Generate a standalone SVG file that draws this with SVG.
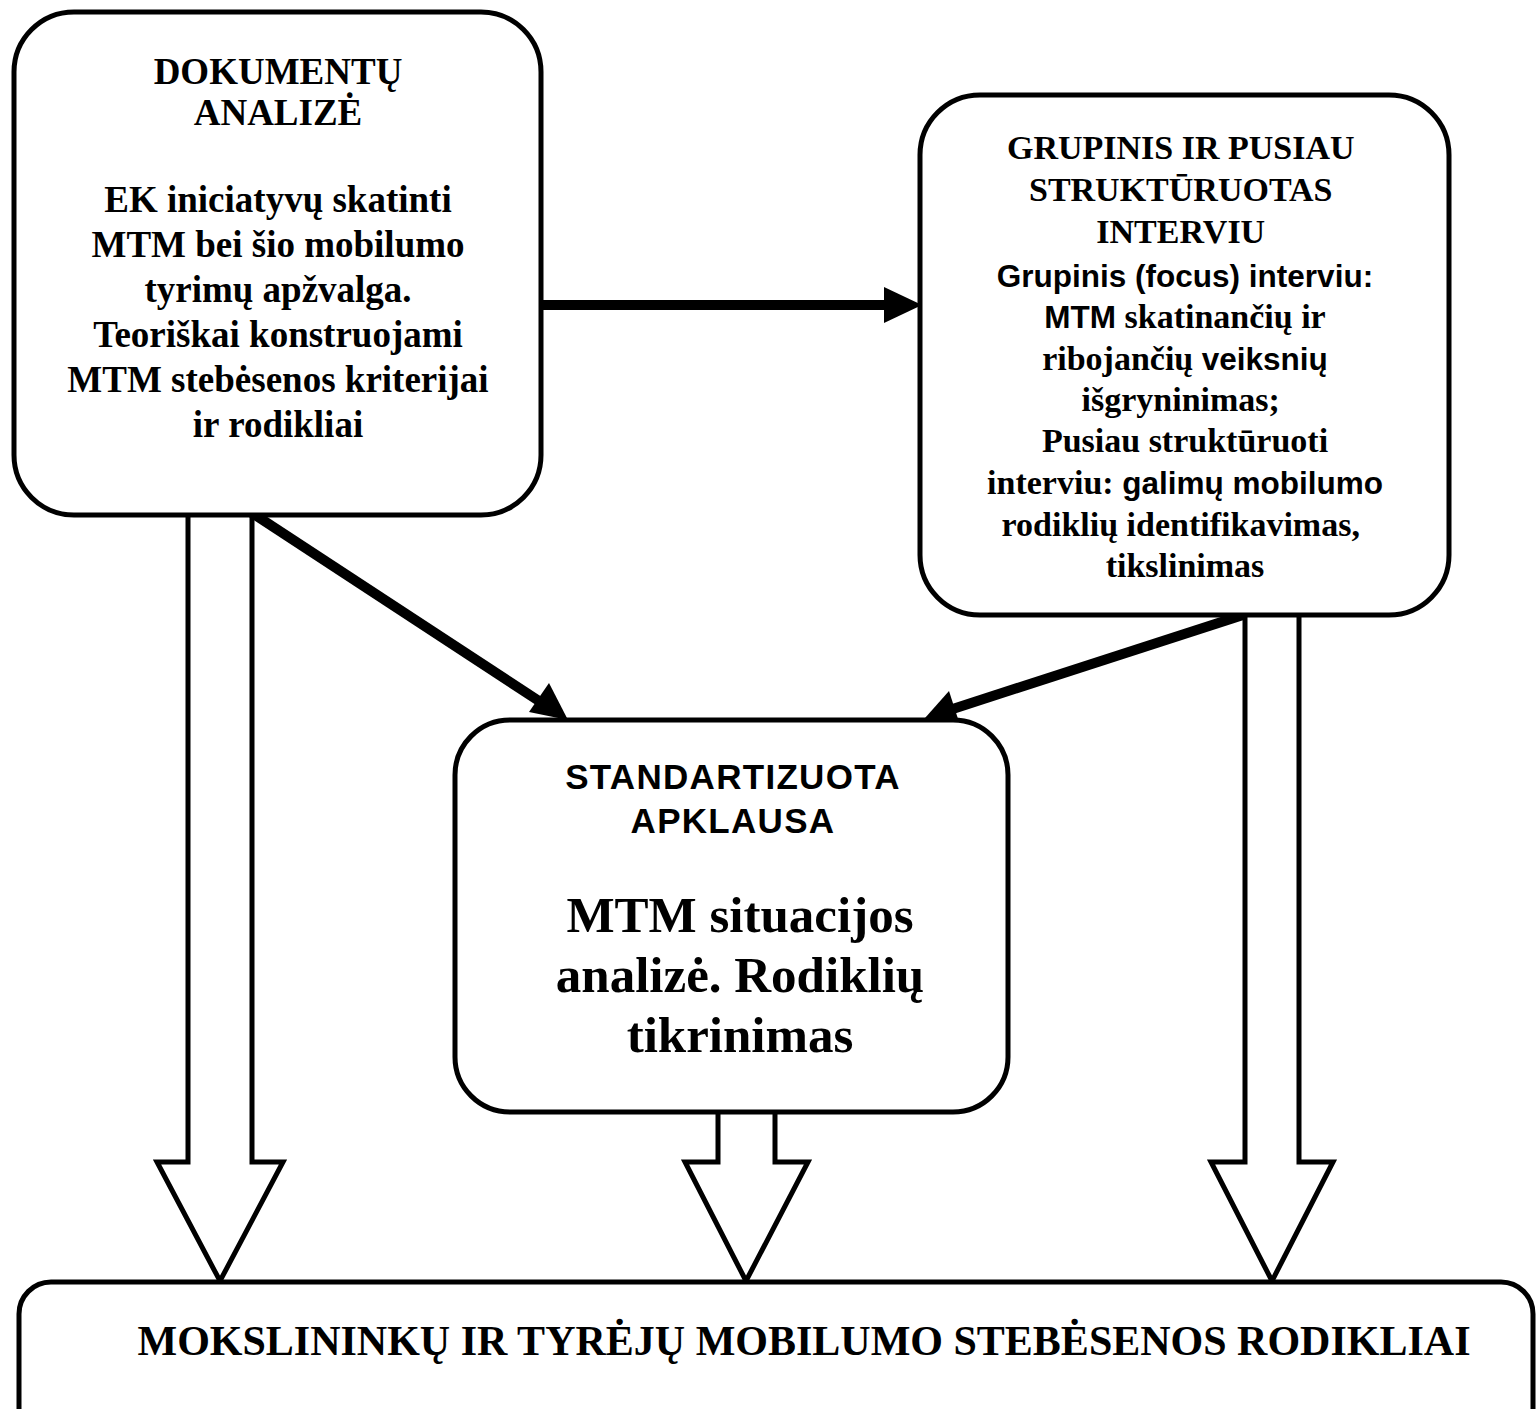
<svg xmlns="http://www.w3.org/2000/svg" width="1537" height="1409" viewBox="0 0 1537 1409">
<style>
.box{fill:#fff;stroke:#000;stroke-width:5}
.blk{fill:#fff;stroke:#000;stroke-width:5;stroke-linejoin:miter}
.con{stroke:#000;stroke-width:10;fill:none}
.head{fill:#000}
.t{font-family:"Liberation Serif","Times New Roman",serif;font-weight:bold;text-anchor:middle;fill:#000}
.s{font-family:"Liberation Sans",Arial,sans-serif;font-weight:bold}
</style>
<rect width="1537" height="1409" fill="#fff"/>
<g id="connectors">
  <path class="blk" d="M188,515 L188,1162 L157,1162 L220,1281 L283,1162 L252,1162 L252,515"/>
  <path class="blk" d="M718,1112 L718,1162 L685,1162 L746,1281 L808,1162 L775,1162 L775,1112"/>
  <path class="blk" d="M1245,615 L1245,1162 L1211,1162 L1272,1281 L1333,1162 L1299,1162 L1299,615"/>
  <line class="con" x1="543" y1="305" x2="888" y2="305" stroke-width="9"/>
  <polygon class="head" points="884,287 922,305 884,323"/>
  <line class="con" x1="252" y1="513" x2="543" y2="703.6"/>
  <polygon class="head" points="568,720 529,712 549,683"/>
  <line class="con" x1="1243" y1="615" x2="953.5" y2="708.7"/>
  <polygon class="head" points="925,718 949,691 960,725"/>
</g>
<g id="node-dokumentu">
  <rect class="box" x="14" y="12" width="527" height="503" rx="60"/>
  <text class="t" font-size="37" x="278"><tspan x="278" y="84">DOKUMENTŲ</tspan><tspan x="278" y="125">ANALIZĖ</tspan><tspan x="278" y="212">EK iniciatyvų skatinti</tspan><tspan x="278" y="257">MTM bei šio mobilumo</tspan><tspan x="278" y="302">tyrimų apžvalga.</tspan><tspan x="278" y="347">Teoriškai konstruojami</tspan><tspan x="278" y="392">MTM stebėsenos kriterijai</tspan><tspan x="278" y="437">ir rodikliai</tspan></text>
</g>
<g id="node-grupinis">
  <rect class="box" x="920" y="95" width="529" height="520" rx="60"/>
  <text class="t" font-size="34">
    <tspan x="1185" y="159">GRUPINIS IR PUSIAU</tspan>
    <tspan x="1185" y="201">STRUKTŪRUOTAS</tspan>
    <tspan x="1185" y="243">INTERVIU</tspan>
    <tspan x="1185" y="287" class="s" font-size="31.5">Grupinis (focus) interviu:</tspan>
  </text>
  <text class="t" font-size="34" x="1185" y="328"><tspan class="s" font-size="31.5">MTM</tspan> skatinančių ir</text>
  <text class="t" font-size="34" x="1185" y="370">ribojančių <tspan class="s" font-size="31.5">veiksnių</tspan></text>
  <text class="t" font-size="34">
    <tspan x="1185" y="411">išgryninimas;</tspan>
    <tspan x="1185" y="452">Pusiau struktūruoti</tspan>
  </text>
  <text class="t" font-size="34" x="1185" y="494">interviu: <tspan class="s" font-size="31.5">galimų mobilumo</tspan></text>
  <text class="t" font-size="34">
    <tspan x="1185" y="536">rodiklių identifikavimas,</tspan>
    <tspan x="1185" y="577">tikslinimas</tspan>
  </text>
</g>
<g id="node-standartizuota">
  <rect class="box" x="455" y="720" width="553" height="392" rx="55"/>
  <text class="t s" font-size="35" letter-spacing="1.3"><tspan x="733" y="789">STANDARTIZUOTA</tspan><tspan x="733" y="833">APKLAUSA</tspan></text>
  <text class="t" font-size="51"><tspan x="740" y="932">MTM situacijos</tspan><tspan x="740" y="992">analizė. Rodiklių</tspan><tspan x="740" y="1052">tikrinimas</tspan></text>
</g>
<g id="node-rodikliai">
  <rect class="box" x="19" y="1282" width="1514" height="200" rx="32"/>
  <text class="t" font-size="42" x="804" y="1355">MOKSLININKŲ IR TYRĖJŲ MOBILUMO STEBĖSENOS RODIKLIAI</text>
</g>
</svg>
